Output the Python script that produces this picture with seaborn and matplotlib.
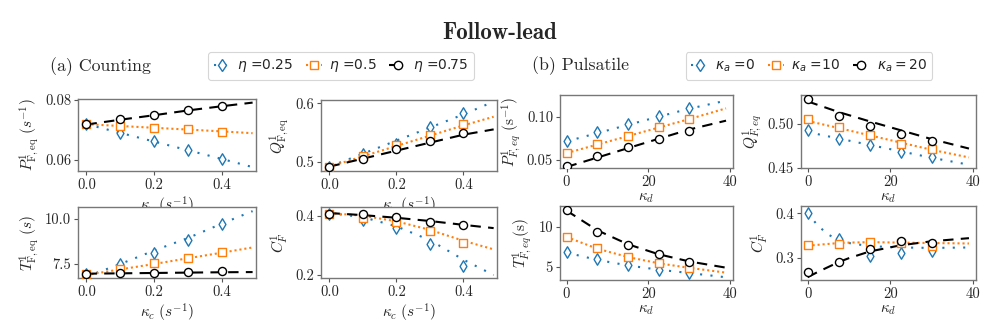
import numpy as np
import pandas as pd
import matplotlib
matplotlib.use("Agg")
import matplotlib.pyplot as plt
from matplotlib.lines import Line2D
import seaborn as sns

# ---------------- data ----------------
kc = [0.0, 0.1, 0.2, 0.3, 0.4]
kc_fit = [0.0, 0.1, 0.2, 0.3, 0.4, 0.49]
kd = [0.0, 7.5, 15.0, 22.5, 30.0]
kd_fit = [0.0, 7.5, 15.0, 22.5, 30.0, 39.0]
kd_fit_c = [0.0, 2.5, 5.0, 7.5, 10.0, 15.0, 22.5, 30.0, 39.0]

eta_labels = [r"$\eta$ =0.25", r"$\eta$ =0.5", r"$\eta$ =0.75"]
ka_labels = [r"$\kappa_a$ =0", r"$\kappa_a$ =10", r"$\kappa_a=20$"]

# Counting: markers
P_c = [[0.0719, 0.0691, 0.0663, 0.0633, 0.0602],
       [0.0719, 0.0714, 0.0708, 0.0702, 0.0692],
       [0.0719, 0.0736, 0.0750, 0.0767, 0.0781]]
P_c_fit = [[0.0719, 0.0690, 0.0661, 0.0632, 0.0603, 0.0576],
           [0.0719, 0.0713, 0.0707, 0.0701, 0.0695, 0.0689],
           [0.0718, 0.0734, 0.0749, 0.0765, 0.0779, 0.0791]]
Q_c = [[0.4913, 0.5134, 0.5300, 0.5597, 0.5840],
       [0.4913, 0.5100, 0.5280, 0.5456, 0.5644],
       [0.4913, 0.5047, 0.5215, 0.5350, 0.5483]]
Q_c_fit = [[0.4913, 0.5135, 0.5360, 0.5585, 0.5810, 0.6030],
           [0.4913, 0.5090, 0.5268, 0.5445, 0.5622, 0.5770],
           [0.4913, 0.5050, 0.5188, 0.5325, 0.5462, 0.5553]]
T_c = [[6.94, 7.48, 8.09, 8.82, 9.72],
       [6.94, 7.20, 7.53, 7.81, 8.16],
       [6.94, 6.98, 7.02, 7.04, 7.09]]
T_c_fit = [[6.80, 7.50, 8.25, 8.95, 9.75, 10.44],
           [6.89, 7.20, 7.50, 7.82, 8.13, 8.42],
           [6.96, 6.98, 7.00, 7.02, 7.04, 7.05]]
C_c = [[0.407, 0.388, 0.359, 0.305, 0.229],
       [0.407, 0.393, 0.378, 0.348, 0.309],
       [0.407, 0.406, 0.398, 0.381, 0.370]]
C_c_err = [[0.006, 0.006, 0.008, 0.010, 0.014],
           [0.006, 0.006, 0.007, 0.009, 0.012],
           [0.006, 0.006, 0.007, 0.008, 0.010]]
C_c_fit = [[0.410, 0.396, 0.365, 0.318, 0.252, 0.200],
           [0.410, 0.401, 0.382, 0.353, 0.316, 0.287],
           [0.410, 0.403, 0.394, 0.383, 0.370, 0.359]]

# Pulsatile: markers
P_p = [[0.0722, 0.0818, 0.0914, 0.1008, 0.1096],
       [0.0584, 0.0680, 0.0780, 0.0876, 0.0970],
       [0.0434, 0.0546, 0.0646, 0.0742, 0.0835]]
P_p_fit = [[0.0715, 0.0810, 0.0905, 0.1000, 0.1092, 0.1185],
           [0.0580, 0.0678, 0.0776, 0.0874, 0.0972, 0.1096],
           [0.0420, 0.0528, 0.0637, 0.0745, 0.0852, 0.0954]]
Q_p = [[0.4926, 0.4822, 0.4756, 0.4681, 0.4626],
       [0.5052, 0.4963, 0.4870, 0.4774, 0.4719],
       [0.5278, 0.5081, 0.4978, 0.4885, 0.4804]]
Q_p_fit = [[0.4905, 0.4832, 0.4760, 0.4688, 0.4615, 0.4537],
           [0.5030, 0.4950, 0.4868, 0.4786, 0.4705, 0.4619],
           [0.5250, 0.5130, 0.5025, 0.4925, 0.4825, 0.4719]]
T_p = [[6.87, 5.92, 5.21, 4.58, 4.17],
       [8.75, 7.29, 6.17, 5.42, 4.79],
       [12.08, 9.29, 7.71, 6.54, 5.62]]
T_p_fit = [[6.75, 5.85, 5.15, 4.62, 4.20, 3.67],
           [8.70, 7.25, 6.20, 5.42, 4.85, 4.25],
           [12.00, 9.55, 7.80, 6.55, 5.65, 4.87]]
C_p = [[0.401, 0.342, 0.304, 0.311, 0.315],
       [0.329, 0.331, 0.336, 0.333, 0.327],
       [0.268, 0.290, 0.319, 0.338, 0.334]]
C_p_fit = [[0.400, 0.372, 0.352, 0.340, 0.333, 0.326, 0.323, 0.322, 0.323],
           [0.327, 0.329, 0.331, 0.333, 0.334, 0.335, 0.334, 0.333, 0.332],
           [0.256, 0.268, 0.279, 0.290, 0.299, 0.314, 0.328, 0.337, 0.344]]

# ---------------- style ----------------
sns.set_theme(style="ticks")
plt.rcParams["font.family"] = ["cmr10", "DejaVu Serif"]
plt.rcParams["mathtext.fontset"] = "cm"
plt.rcParams["axes.formatter.use_mathtext"] = True
plt.rcParams["axes.unicode_minus"] = False

colors = ["#1f77b4", "#ff7f0e", "black"]
markers = ["d", "s", "o"]
msizes = [34, 30, 34]
lstyles = [(0, (1, 4)), (0, (1, 1.4)), (0, (5, 3.5))]

fig = plt.figure(figsize=(10, 3.29), dpi=100)
W, H = 1000, 329


def add_ax(l, r, t, b):
    return fig.add_axes([l / W, 1 - b / H, (r - l) / W, (b - t) / H])


def draw(ax, x, ys, xfit, yfits, xlim, ylim, yticks, xticks, xlabel, ylabel,
         errs=None, fmt=("%.1f", "%.2f")):
    for i in range(3):
        dfl = pd.DataFrame({"x": xfit, "y": yfits[i]})
        sns.lineplot(data=dfl, x="x", y="y", ax=ax, color=colors[i],
                     linestyle=lstyles[i], lw=1.5, zorder=2)
    for i in range(3):
        dfp = pd.DataFrame({"x": x, "y": ys[i]})
        if errs is not None:
            ax.errorbar(x, ys[i], yerr=errs[i], fmt="none", ecolor=colors[i],
                        elinewidth=1, zorder=3)
        sns.scatterplot(data=dfp, x="x", y="y", ax=ax, marker=markers[i],
                        s=msizes[i], facecolor="white", edgecolor=colors[i],
                        linewidth=1.0, zorder=4)
    ax.set_xlim(*xlim)
    ax.set_ylim(*ylim)
    ax.set_xticks(xticks)
    ax.set_yticks(yticks)
    ax.xaxis.set_major_formatter(matplotlib.ticker.FormatStrFormatter(fmt[0]))
    ax.yaxis.set_major_formatter(matplotlib.ticker.FormatStrFormatter(fmt[1]))
    ax.set_xlabel(xlabel, fontsize=11, labelpad=2)
    ax.set_ylabel(ylabel, fontsize=11, labelpad=3)
    ax.tick_params(labelsize=10.5, length=3, width=0.8, color="#555555", pad=2)
    for s in ax.spines.values():
        s.set_color("#777777")
        s.set_linewidth(1.0)


xlab_c = r"$\kappa_c\ (s^{-1})$"
xlab_d = r"$\kappa_d$"

a1 = add_ax(78, 256, 99, 171)
draw(a1, kc, P_c, kc_fit, P_c_fit, (-0.025, 0.50), (0.0563, 0.0803),
     [0.06, 0.08], [0.0, 0.2, 0.4], xlab_c,
     r"$P^1_{\mathrm{F,eq}}\ (s^{-1})$", fmt=("%.1f", "%.2f"))
a2 = add_ax(321, 497, 100, 171)
draw(a2, kc, Q_c, kc_fit, Q_c_fit, (-0.025, 0.50), (0.4838, 0.6058),
     [0.5, 0.6], [0.0, 0.2, 0.4], xlab_c,
     r"$Q^1_{\mathrm{F,eq}}$", fmt=("%.1f", "%.1f"))
a3 = add_ax(78, 256, 207, 278)
draw(a3, kc, T_c, kc_fit, T_c_fit, (-0.025, 0.50), (6.72, 10.67),
     [7.5, 10.0], [0.0, 0.2, 0.4], xlab_c,
     r"$T^1_{\mathrm{F,eq}}\ (s)$", fmt=("%.1f", "%.1f"))
a4 = add_ax(321, 497, 207, 278)
draw(a4, kc, C_c, kc_fit, C_c_fit, (-0.025, 0.50), (0.19, 0.4305),
     [0.2, 0.4], [0.0, 0.2, 0.4], xlab_c,
     r"$C^1_F$", errs=C_c_err, fmt=("%.1f", "%.1f"))

b1 = add_ax(560, 733, 95, 168)
draw(b1, kd, P_p, kd_fit, P_p_fit, (-1.6, 40.7), (0.0408, 0.125),
     [0.05, 0.10], [0, 20, 40], xlab_d,
     r"$P^1_{F,eq}\ (\mathrm{s}^{-1})$", fmt=("%d", "%.2f"))
b2 = add_ax(801, 976, 95, 168)
draw(b2, kd, Q_p, kd_fit, Q_p_fit, (-1.6, 40.7), (0.4505, 0.5322),
     [0.45, 0.50], [0, 20, 40], xlab_d,
     r"$Q^1_{F,eq}$", fmt=("%d", "%.2f"))
b3 = add_ax(560, 733, 206, 280)
draw(b3, kd, T_p, kd_fit, T_p_fit, (-1.6, 40.7), (3.33, 12.58),
     [5, 10], [0, 20, 40], xlab_d,
     r"$T^1_{F,eq}(\mathrm{s})$", fmt=("%d", "%d"))
b4 = add_ax(801, 976, 206, 280)
draw(b4, kd, C_p, kd_fit_c, C_p_fit, (-1.6, 40.7), (0.2497, 0.4165),
     [0.3, 0.4], [0, 20, 40], xlab_d,
     r"$C^1_F$", fmt=("%d", "%.1f"))

# ---------------- titles & legends ----------------
fig.text(0.5, 1 - 33 / H, "Follow-lead", ha="center", va="center",
         fontsize=16.5, family=["cmb10", "DejaVu Serif"])
fig.text(50 / W, 1 - 67 / H, "(a) Counting", ha="left", va="center",
         fontsize=12.8)
fig.text(532 / W, 1 - 66 / H, "(b) Pulsatile", ha="left", va="center",
         fontsize=12.8)


def make_handles():
    return [Line2D([], [], color=colors[i], linestyle=lstyles[i], lw=1.5,
                   marker=markers[i], markersize=6 if i != 1 else 5.5,
                   markerfacecolor="white", markeredgecolor=colors[i],
                   markeredgewidth=1.0) for i in range(3)]


leg_kw = dict(loc="center", ncol=3, frameon=True, fancybox=True,
              handlelength=1.2, handletextpad=0.5, columnspacing=0.9,
              borderpad=0.4,
              prop={"family": ["DejaVu Sans"], "size": 10,
                    "math_fontfamily": "dejavusans"})
lg1 = fig.legend(make_handles(), eta_labels,
                 bbox_to_anchor=(341 / W, 1 - 66 / H), **leg_kw)
lg2 = fig.legend(make_handles(), ka_labels,
                 bbox_to_anchor=(809 / W, 1 - 66 / H), **leg_kw)
for lg in (lg1, lg2):
    lg.get_frame().set_edgecolor("#cccccc")
    lg.get_frame().set_linewidth(0.8)

fig.savefig("out.png", dpi=100)
